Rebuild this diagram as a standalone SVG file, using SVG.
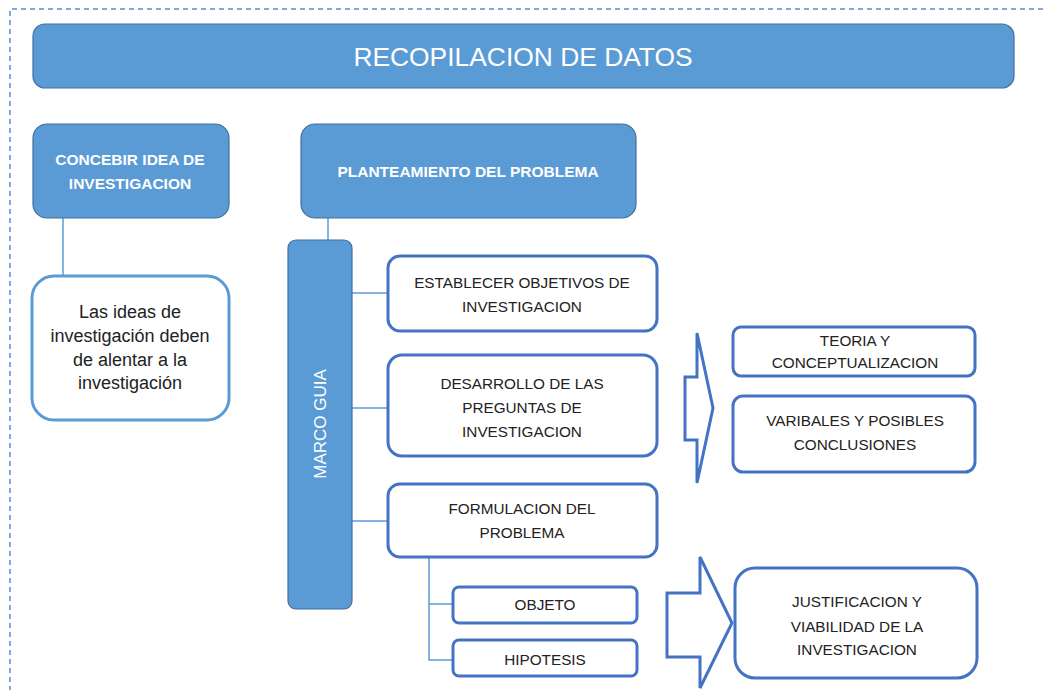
<svg xmlns="http://www.w3.org/2000/svg" width="1043" height="690" viewBox="0 0 1043 690">
<style>
.solid{fill:#5B9BD5;stroke:#41719C;stroke-width:1.2}
.out{fill:#fff;stroke:#4472C4;stroke-width:3}
.outl{fill:#fff;stroke:#5B9BD5;stroke-width:3}
.wt{fill:#fff;font-family:"Liberation Sans",Arial,sans-serif;font-size:15.5px;font-weight:bold;text-anchor:middle}
.dt{fill:#222;font-family:"Liberation Sans",Arial,sans-serif;font-size:15.3px;text-anchor:middle}
.lt{fill:#222;font-family:"Liberation Sans",Arial,sans-serif;font-size:18px;text-anchor:middle}
.ct{fill:none;stroke:#5B9BD5;stroke-width:1.5}
.arr{fill:#fff;stroke:#4472C4;stroke-width:3;stroke-linejoin:miter}
</style>
<rect width="1043" height="690" fill="#fff"/>
<path d="M10,700 V9 H1050" fill="none" stroke="#5B8FD6" stroke-width="1.5" stroke-dasharray="5,4"/>
<g id="connectors">
<path class="ct" d="M63,218 V276"/>
<path class="ct" d="M328,218 V240"/>
<path class="ct" d="M352,293 H388"/>
<path class="ct" d="M352,408 H388"/>
<path class="ct" d="M352,521 H388"/>
<path class="ct" d="M429,557 V660 H453 M429,604 H453"/>
</g>
<g id="title"><rect class="solid" x="33" y="24" width="981" height="64" rx="12"/><text x="523" y="66" fill="#fff" font-family="Liberation Sans,Arial,sans-serif" font-size="26.4" text-anchor="middle">RECOPILACION DE DATOS</text></g>
<g id="concebir"><rect class="solid" x="33" y="124" width="196" height="94" rx="14"/><text class="wt" x="130" y="165">CONCEBIR IDEA DE</text><text class="wt" x="130" y="189">INVESTIGACION</text></g>
<g id="ideas"><rect class="outl" x="32" y="276" width="197" height="144" rx="22"/><text class="lt" x="130" y="318">Las ideas de</text><text class="lt" x="130" y="342">investigación deben</text><text class="lt" x="130" y="366">de alentar a la</text><text class="lt" x="130" y="389">investigación</text></g>
<g id="planteamiento"><rect class="solid" x="301" y="124" width="335" height="94" rx="14"/><text class="wt" x="468" y="177">PLANTEAMIENTO DEL PROBLEMA</text></g>
<g id="marco"><rect class="solid" x="288" y="240" width="64" height="369" rx="8"/><text fill="#fff" font-family="Liberation Sans,Arial,sans-serif" font-size="17" text-anchor="middle" transform="translate(326,424) rotate(-90)">MARCO GUIA</text></g>
<g id="establecer"><rect class="out" x="388" y="256" width="269" height="75" rx="12"/><text class="dt" x="522" y="288">ESTABLECER OBJETIVOS DE</text><text class="dt" x="522" y="312">INVESTIGACION</text></g>
<g id="desarrollo"><rect class="out" x="388" y="355" width="269" height="101" rx="14"/><text class="dt" x="522" y="389">DESARROLLO DE LAS</text><text class="dt" x="522" y="413">PREGUNTAS DE</text><text class="dt" x="522" y="437">INVESTIGACION</text></g>
<g id="formulacion"><rect class="out" x="388" y="484" width="269" height="73" rx="12"/><text class="dt" x="522" y="514">FORMULACION DEL</text><text class="dt" x="522" y="538">PROBLEMA</text></g>
<g id="objeto"><rect class="out" x="453" y="587" width="184" height="36" rx="6"/><text class="dt" x="545" y="610">OBJETO</text></g>
<g id="hipotesis"><rect class="out" x="453" y="640" width="184" height="36" rx="6"/><text class="dt" x="545" y="665">HIPOTESIS</text></g>
<g id="arrow1"><path class="arr" d="M685,377 H697 V333 L713,408 L697,483 V440 H685 Z"/></g>
<g id="teoria"><rect class="out" x="733" y="327" width="242" height="49" rx="8"/><text class="dt" x="855" y="346">TEORIA Y</text><text class="dt" x="855" y="368">CONCEPTUALIZACION</text></g>
<g id="variables"><rect class="out" x="733" y="396" width="242" height="76" rx="10"/><text class="dt" x="855" y="426">VARIBALES Y POSIBLES</text><text class="dt" x="855" y="450">CONCLUSIONES</text></g>
<g id="arrow2"><path class="arr" d="M667,593 H700 V557 L732,623 L700,688 V657 H667 Z"/></g>
<g id="justificacion"><rect class="out" x="735" y="568" width="242" height="110" rx="20"/><text class="dt" x="857" y="607">JUSTIFICACION Y</text><text class="dt" x="857" y="632">VIABILIDAD DE LA</text><text class="dt" x="857" y="655">INVESTIGACION</text></g>
</svg>
